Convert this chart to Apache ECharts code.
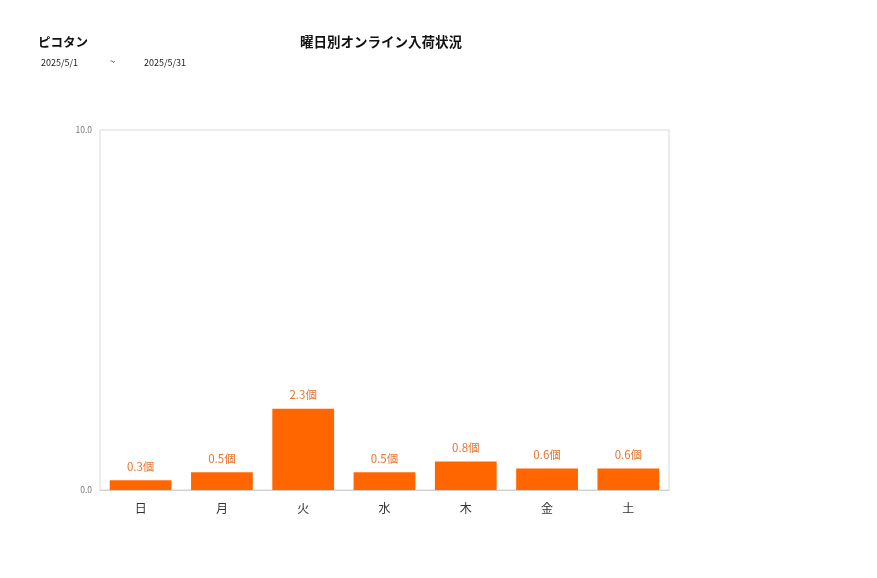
<!DOCTYPE html>
<html>
<head>
<meta charset="utf-8">
<script src="https://cdn.jsdelivr.net/npm/echarts@6/dist/echarts.min.js"></script>
<style>
html,body{margin:0;padding:0;background:#fff;}
#main{width:877px;height:578px;}
</style>
</head>
<body>
<div id="main"></div>
<script>
// 曜日ごとの値
var days = ['日','月','火','水','木','金','土'];
var values = [0.27, 0.49, 2.26, 0.49, 0.79, 0.6, 0.6];
var yMin = 0, yMax = 10;

var font = '"Noto Sans CJK JP", sans-serif';
var myChart = echarts.init(document.getElementById('main'));
var option = {
	backgroundColor: '#fff',
	textStyle: {fontFamily: font},
	title: [
		{text: 'ピコタン', left: 33, top: 31, textStyle: {fontSize: 12.5, fontWeight: 'bold', color: '#111', fontFamily: font}},
		{text: '2025/5/1', left: 36, top: 53, textStyle: {fontSize: 9, fontWeight: 'normal', color: '#222', fontFamily: font}},
		{text: '~', left: 105, top: 52, textStyle: {fontSize: 9, fontWeight: 'normal', color: '#222', fontFamily: font}},
		{text: '2025/5/31', left: 139, top: 53, textStyle: {fontSize: 9, fontWeight: 'normal', color: '#222', fontFamily: font}},
		{text: '曜日別オンライン入荷状況', left: 376, top: 30, textAlign: 'center', textStyle: {fontSize: 13.5, fontWeight: 'bold', color: '#111', fontFamily: font}}
	],
	grid: {left: 100, right: 208, top: 130, bottom: 88, show: true, borderColor: '#d9d9d9', borderWidth: 1},
	xAxis: {
		type: 'category',
		data: days,
		axisLine: {show: true, lineStyle: {color: '#d0d0d0'}},
		axisTick: {show: false},
		axisLabel: {color: '#333', fontSize: 12, margin: 12, fontFamily: font}
	},
	yAxis: {
		type: 'value',
		min: yMin,
		max: yMax,
		interval: 10,
		splitLine: {show: false},
		axisLine: {show: false},
		axisTick: {show: false},
		axisLabel: {color: '#777', fontSize: 8.5, margin: 8, formatter: function(v){ return v.toFixed(1); }, fontFamily: font}
	},
	series: [{
		type: 'bar',
		data: values,
		barCategoryGap: '24%',
		itemStyle: {color: '#ff6600'},
		label: {
			show: true,
			position: 'top',
			distance: 8,
			color: '#e8742e',
			fontSize: 11.5,
			fontFamily: font,
			formatter: function(p){ return p.value.toFixed(1) + '個'; }
		}
	}]
};
myChart.setOption(option);
</script>
</body>
</html>
